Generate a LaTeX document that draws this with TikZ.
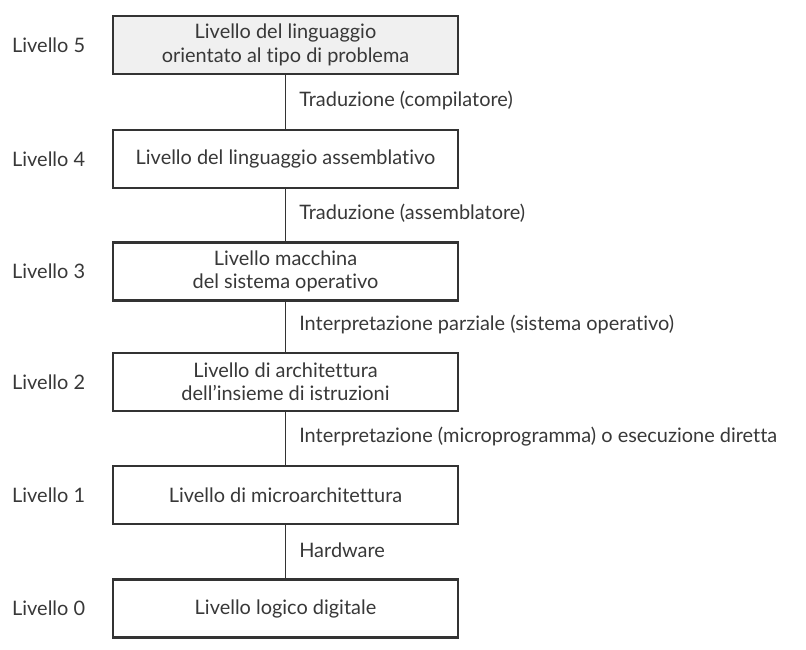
\documentclass[tikz,border=0pt]{standalone}
\usepackage{fontspec}
\setmainfont{Lato}[Ligatures=NoCommon]
\begin{document}
\begin{tikzpicture}[x=1bp,y=-1bp,
  ink/.style={draw=black!80},
  levelbox/.style={ink, line width=2.2bp, minimum width=345bp, minimum height=58bp,
    align=center, text=black!78, font=\fontsize{20}{23.5}\selectfont, inner sep=0pt},
  levelname/.style={anchor=west, text=black!78, font=\fontsize{20}{23.5}\selectfont, inner sep=0pt},
  steplabel/.style={anchor=west, text=black!78, font=\fontsize{20}{23.5}\selectfont, inner sep=0pt, xshift=13bp, yshift=2bp},
  link/.style={ink, line width=1.6bp}]
  \useasboundingbox (0,0) rectangle (806,650);

  % level boxes, top to bottom
  \node[levelbox, fill=black!6] (b5) at (285.5,45) {Livello del linguaggio\\orientato al tipo di problema};
  \node[levelbox, fill=white] (b4) at (285.5,159) {Livello del linguaggio assemblativo};
  \node[levelbox, fill=white] (b3) at (285.5,271.5) {Livello macchina\\del sistema operativo};
  \node[levelbox, fill=white] (b2) at (285.5,382) {Livello di architettura\\dell’insieme di istruzioni};
  \node[levelbox, fill=white] (b1) at (285.5,495) {Livello di microarchitettura};
  \node[levelbox, fill=white] (b0) at (285.5,608.5) {Livello logico digitale};

  % level numbers on the left
  \node[levelname] (n5) at (12,45) {Livello 5};
  \node[levelname] (n4) at (12,159) {Livello 4};
  \node[levelname] (n3) at (12,271.5) {Livello 3};
  \node[levelname] (n2) at (12,382) {Livello 2};
  \node[levelname] (n1) at (12,495) {Livello 1};
  \node[levelname] (n0) at (12,608.5) {Livello 0};

  % connections between adjacent levels
  \draw[link] (b5.south) -- node[steplabel] (t54) {Traduzione (compilatore)} (b4.north);
  \draw[link] (b4.south) -- node[steplabel] (t43) {Traduzione (assemblatore)} (b3.north);
  \draw[link] (b3.south) -- node[steplabel] (t32) {Interpretazione parziale (sistema operativo)} (b2.north);
  \draw[link] (b2.south) -- node[steplabel] (t21) {Interpretazione (microprogramma) o esecuzione diretta} (b1.north);
  \draw[link] (b1.south) -- node[steplabel] (t10) {Hardware} (b0.north);
\end{tikzpicture}
\end{document}
